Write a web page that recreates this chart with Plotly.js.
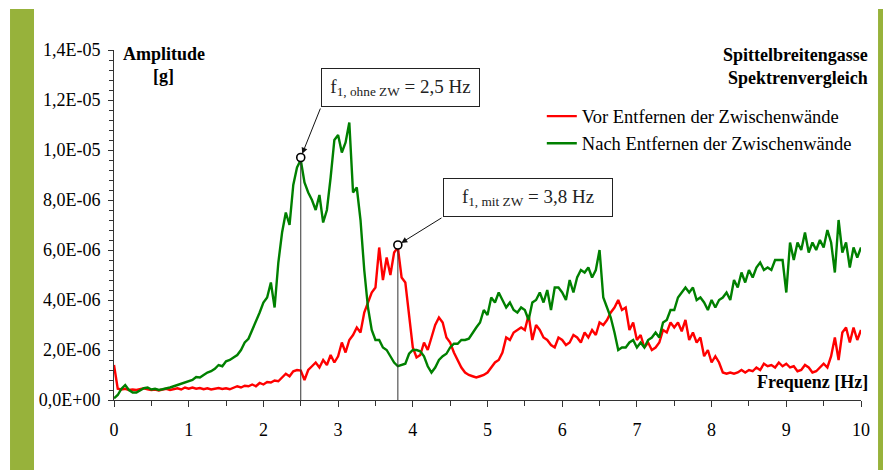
<!DOCTYPE html>
<html>
<head>
<meta charset="utf-8">
<script src="https://cdn.plot.ly/plotly-3.0.1.min.js"></script>
<style>html,body{margin:0;padding:0;background:#fff;}#chart{width:883px;height:470px;}</style>
</head>
<body>
<div id="chart"></div>
<script>
// Frequency grid step (Hz) and amplitude series in units of 1E-06 g
const freqStep = 0.05;
const redAmpE6 = [
1.4,0.45,0.42,0.45,0.40,0.42,0.40,0.45,0.47,0.43,
0.40,0.42,0.38,0.42,0.45,0.40,0.43,0.47,0.42,0.50,
0.45,0.50,0.45,0.48,0.43,0.47,0.42,0.45,0.48,0.44,
0.47,0.43,0.50,0.55,0.50,0.57,0.55,0.62,0.55,0.68,
0.62,0.72,0.70,0.78,0.75,0.90,1.05,0.95,1.15,1.20,
1.18,0.80,1.20,1.35,1.50,1.30,1.60,1.40,1.80,1.50,
1.75,2.30,1.90,2.40,2.60,2.90,2.70,3.50,3.90,4.30,
4.50,6.10,4.80,5.70,5.00,5.90,6.10,4.90,4.70,3.30,
2.10,1.70,1.80,2.30,2.00,2.50,3.00,3.30,3.10,2.50,
2.30,1.90,1.60,1.30,1.10,1.00,0.95,0.90,0.95,1.00,
1.10,1.30,1.50,1.60,1.90,2.50,2.40,2.70,2.80,2.90,
2.80,3.40,2.40,3.00,2.80,2.50,2.40,2.20,2.10,2.50,
2.40,2.20,2.30,2.60,2.50,2.30,2.70,2.50,2.80,2.60,
3.10,3.00,3.20,3.50,3.70,4.00,3.60,3.70,2.80,3.10,
2.40,2.60,2.10,2.30,2.00,2.10,2.30,2.80,2.70,3.10,
2.90,3.10,2.75,3.20,2.40,2.70,2.30,2.50,1.75,2.00,
1.50,1.75,1.50,1.10,1.05,1.10,1.05,1.10,1.20,1.10,
1.20,1.15,1.30,1.20,1.45,1.35,1.40,1.30,1.50,1.35,
1.45,1.30,1.35,1.15,1.20,1.40,1.30,1.10,1.15,1.30,
1.45,1.30,1.75,2.50,1.60,2.70,2.90,2.30,2.90,2.40,
2.80];
const greenAmpE6 = [
0.07,0.20,0.45,0.60,0.40,0.30,0.30,0.38,0.47,0.50,
0.42,0.45,0.40,0.43,0.45,0.50,0.55,0.60,0.65,0.70,
0.77,0.80,0.92,0.90,1.00,1.10,1.15,1.25,1.40,1.35,
1.55,1.60,1.70,1.80,2.00,2.30,2.45,2.80,3.10,3.50,
3.90,4.10,4.70,3.70,5.50,6.70,7.50,7.00,8.60,9.30,
9.60,8.70,8.30,8.00,7.60,8.20,7.10,7.60,8.90,10.40,
10.60,9.90,10.30,11.10,8.30,8.50,7.20,5.20,3.70,2.80,
2.40,2.40,2.10,2.00,1.75,1.50,1.35,1.40,1.45,1.85,
2.00,2.00,1.95,1.75,1.35,1.10,1.30,1.60,1.75,1.85,
2.10,2.25,2.25,2.40,2.40,2.45,2.70,2.90,3.10,3.60,
3.40,4.10,3.90,4.30,4.00,3.70,3.90,3.60,3.50,3.70,
3.60,3.20,3.90,4.00,4.30,3.90,4.40,3.60,4.50,4.50,
4.30,4.00,4.80,4.30,4.90,5.20,5.10,5.30,4.90,5.20,
6.00,4.10,3.70,3.30,2.70,2.00,2.10,2.10,2.30,2.40,
2.10,2.30,2.10,2.40,2.50,2.70,2.50,3.10,3.20,3.60,
3.60,4.10,4.30,4.50,4.30,4.50,4.00,4.10,3.90,3.60,
4.00,3.70,4.00,4.10,4.30,4.00,4.80,4.50,5.10,4.70,
5.20,4.90,5.30,5.50,5.20,5.30,5.20,5.60,5.60,5.60,
4.30,6.30,5.60,6.30,6.00,6.70,5.90,6.30,6.00,6.40,
6.10,6.80,6.30,5.10,7.20,5.90,6.30,5.30,6.10,5.70,
6.10];
const seriesNames = ["Vor Entfernen der Zwischenwände", "Nach Entfernen der Zwischenwände"];
const peakFreqs = [2.5, 3.8];
const peakAmpsE6 = [9.7, 6.2];
const peakLabels = ["f<sub>1, ohne ZW</sub> = 2,5 Hz", "f<sub>1, mit ZW</sub> = 3,8 Hz"];
const yTickVals = [0, 2e-6, 4e-6, 6e-6, 8e-6, 10e-6, 12e-6, 14e-6];
const yTickText = ["0,0E+00","2,0E-06","4,0E-06","6,0E-06","8,0E-06","1,0E-05","1,2E-05","1,4E-05"];
const xTickVals = [0,1,2,3,4,5,6,7,8,9,10];
const yTitleLines = ["Amplitude", "[g]"];
const xTitle = "Frequenz [Hz]";
const titleLines = ["Spittelbreitengasse", "Spektrenvergleich"];

const freq = redAmpE6.map((_, i) => +(i * freqStep).toFixed(2));
const toG = v => v * 1e-6;

const FONT = "Liberation Serif, Times New Roman, serif";

const vx = [], vy = [];
peakFreqs.forEach((f, i) => { vx.push(f, f, null); vy.push(0, toG(peakAmpsE6[i]), null); });

const traces = [
  {x: freq, y: redAmpE6.map(toG), type: 'scatter', mode: 'lines', name: seriesNames[0],
   line: {color: '#ff0000', width: 2.4}},
  {x: freq, y: greenAmpE6.map(toG), type: 'scatter', mode: 'lines', name: seriesNames[1],
   line: {color: '#008000', width: 2.4}},
  {x: vx, y: vy, type: 'scatter', mode: 'lines', showlegend: false, hoverinfo: 'skip',
   line: {color: '#333333', width: 1}},
  {x: peakFreqs, y: peakAmpsE6.map(toG), type: 'scatter', mode: 'markers', showlegend: false,
   marker: {symbol: 'circle', size: 8, color: '#ffffff', line: {color: '#000000', width: 1.6}}}
];

// box positions (paper) and arrow tails (data)
const boxPos = [{x: 0.3835, y: 0.894, w: 151, h: 31}, {x: 0.554, y: 0.5786, w: 162, h: 31}];
const arrowTails = [{f: 2.771, a: 11.72}, {f: 4.404, a: 7.32}];

const bold = {family: FONT, size: 18, color: '#000'};
const annotations = [
  {xref: 'paper', yref: 'paper', x: 0.0663, y: 0.9886, xanchor: 'center', yanchor: 'middle',
   text: '<b>' + yTitleLines[0] + '</b>', showarrow: false, font: bold},
  {xref: 'paper', yref: 'paper', x: 0.0663, y: 0.9257, xanchor: 'center', yanchor: 'middle',
   text: '<b>' + yTitleLines[1] + '</b>', showarrow: false, font: bold},
  {xref: 'paper', yref: 'paper', x: 1.0115, y: 0.9857, xanchor: 'right', yanchor: 'middle',
   text: '<b>' + titleLines[0] + '</b>', showarrow: false, font: bold},
  {xref: 'paper', yref: 'paper', x: 1.0115, y: 0.92, xanchor: 'right', yanchor: 'middle',
   text: '<b>' + titleLines[1] + '</b>', showarrow: false, font: bold},
  {xref: 'paper', yref: 'paper', x: 1.0125, y: 0.0514, xanchor: 'right', yanchor: 'middle',
   text: '<b>' + xTitle + '</b>', showarrow: false, font: bold}
];
peakFreqs.forEach((f, i) => {
  annotations.push({xref: 'paper', yref: 'paper', x: boxPos[i].x, y: boxPos[i].y,
    xanchor: 'center', yanchor: 'middle', text: peakLabels[i], showarrow: false,
    width: boxPos[i].w, height: boxPos[i].h, bgcolor: '#ffffff', bordercolor: '#222', borderwidth: 1, borderpad: 3,
    font: {family: FONT, size: 19, color: '#222'}});
  annotations.push({xref: 'x', yref: 'y', x: f, y: toG(peakAmpsE6[i]), axref: 'x', ayref: 'y',
    ax: arrowTails[i].f, ay: toG(arrowTails[i].a), text: '', showarrow: true,
    arrowhead: 2, arrowsize: 1.2, arrowwidth: 1, arrowcolor: '#111', standoff: 4});
});

const layout = {
  width: 883, height: 470,
  margin: {l: 114, r: 22, t: 50, b: 70},
  paper_bgcolor: '#ffffff', plot_bgcolor: '#ffffff',
  font: {family: FONT, size: 18, color: '#000'},
  showlegend: true,
  legend: {x: 0.5727, y: 0.864, xanchor: 'left', yanchor: 'top', bgcolor: 'rgba(0,0,0,0)',
    font: {family: FONT, size: 18.5, color: '#000'}, itemwidth: 30, tracegroupgap: 0},
  xaxis: {range: [0, 10], tickvals: xTickVals, showgrid: false, zeroline: false,
    showline: true, linecolor: '#333', linewidth: 1, ticks: 'outside', ticklen: 6, tickcolor: '#333',
    ticklabelstandoff: 7,
    minor: {dtick: 0.5, ticks: 'outside', ticklen: 5, tickcolor: '#333', showgrid: false},
    tickfont: {family: FONT, size: 18, color: '#000'}, fixedrange: true},
  yaxis: {range: [0, 1.4e-5], tickvals: yTickVals, ticktext: yTickText, showgrid: false, zeroline: false,
    showline: true, linecolor: '#333', linewidth: 1, ticks: 'outside', ticklen: 5, tickcolor: '#333',
    ticklabelstandoff: 4,
    minor: {tickvals: Array.from({length: 36}, (_, i) => i * 4e-7), ticks: 'outside', ticklen: 4, tickcolor: '#333', showgrid: false},
    tickfont: {family: FONT, size: 18, color: '#000'}, fixedrange: true},
  shapes: [
    {type: 'rect', xref: 'paper', yref: 'paper', x0: -0.1392, x1: -0.1071, y0: -0.21, y1: 1.117,
     fillcolor: '#97b23b', line: {width: 0}, layer: 'below'},
    {type: 'rect', xref: 'paper', yref: 'paper', x0: 1.0228, x1: 1.035, y0: -0.21, y1: 1.117,
     fillcolor: '#97b23b', line: {width: 0}, layer: 'below'}
  ],
  annotations: annotations
};

Plotly.newPlot('chart', traces, layout, {staticPlot: true, displayModeBar: false});
</script>
</body>
</html>
